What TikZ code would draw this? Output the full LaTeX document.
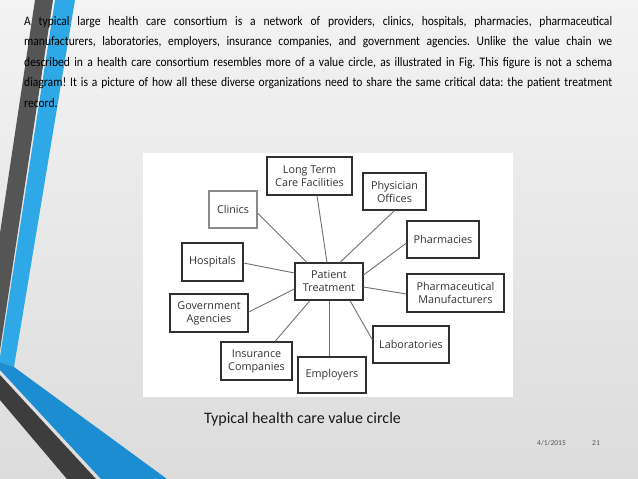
\documentclass[tikz,border=0pt]{standalone}
\usepackage{fontspec}
\setmainfont{Carlito}
\newfontfamily\boxfont{Open Sans}
\newfontfamily\bodyfont{Carlito}[FakeStretch=0.89]
\usetikzlibrary{calc}
\definecolor{bgtop}{HTML}{F3F3F3}
\definecolor{bgbot}{HTML}{DCDCDC}
\definecolor{stripegray}{HTML}{555555}
\definecolor{stripegraydk}{HTML}{3D3D3D}
\definecolor{stripeblue}{HTML}{2EA8E6}
\definecolor{stripebluedk}{HTML}{1C8DD0}
\definecolor{boxline}{HTML}{303030}
\definecolor{boxlinelt}{HTML}{8A8A8A}
\definecolor{boxtext}{HTML}{333333}
\definecolor{linkcol}{HTML}{707070}
\definecolor{foot}{HTML}{555555}
\frenchspacing
\begin{document}
\begin{tikzpicture}[x=1pt,y=-1pt,
  entity/.style={draw=boxline, line width=1.1pt, fill=white, inner sep=0pt,
    align=center, text=boxtext, font=\boxfont\fontsize{10.8}{13}\selectfont},
  link/.style={draw=linkcol, line width=0.9pt},
  bodyline/.style={anchor=base west, inner sep=0pt, text=black,
    font=\bodyfont\fontsize{13}{16}\selectfont}]
\useasboundingbox (0,0) rectangle (638,479);
\shade[top color=bgtop, bottom color=bgbot] (0,0) rectangle (638,479);
% left decoration
\fill[stripegray] (35,0) -- (53,0) -- (0,350) -- (0,233) -- cycle;
\fill[stripeblue] (55,0) -- (75,0) -- (14,367) -- (0,362) -- (0,357) -- cycle;
\fill[stripebluedk] (0,362) -- (14,367) -- (167,479) -- (101,479) -- (0,370) -- cycle;
\fill[stripegraydk] (0,375) -- (96,479) -- (67,479) -- (0,400) -- cycle;
% body text
\node[bodyline] (body1) at (24,25) {\makebox[588pt][s]{A typical large health care consortium is a network of providers, clinics, hospitals, pharmacies, pharmaceutical}};
\node[bodyline] (body2) at (24,45.6) {\makebox[588pt][s]{manufacturers, laboratories, employers, insurance companies, and government agencies. Unlike the value chain we}};
\node[bodyline] (body3) at (24,66.2) {\makebox[588pt][s]{described in a health care consortium resembles more of a value circle, as illustrated in Fig. This figure is not a schema}};
\node[bodyline] (body4) at (24,86.8) {\makebox[588pt][s]{diagram! It is a picture of how all these diverse organizations need to share the same critical data: the patient treatment}};
\node[bodyline] (body5) at (24,107.4) {record.};
% panel
\fill[white] (143,153) rectangle (513,397);
% boxes
\node[entity, minimum width=85pt, minimum height=38pt] (ltc) at (309.5,176) {Long Term\\Care Facilities};
\node[entity, minimum width=63pt, minimum height=37pt] (phys) at (394.5,191.5) {Physician\\Offices};
\node[entity, draw=boxlinelt, minimum width=48pt, minimum height=37pt] (clin) at (233,209.5) {Clinics};
\node[entity, minimum width=72pt, minimum height=37pt] (pharm) at (443,239.5) {Pharmacies};
\node[entity, minimum width=61pt, minimum height=38pt] (hosp) at (212.5,262) {Hospitals};
\node[entity, minimum width=68pt, minimum height=37pt] (pt) at (329,281.5) {Patient\\Treatment};
\node[entity, minimum width=97pt, minimum height=38pt] (pman) at (455.5,293) {Pharmaceutical\\Manufacturers};
\node[entity, minimum width=78pt, minimum height=38pt] (gov) at (209,313) {Government\\Agencies};
\node[entity, minimum width=76pt, minimum height=37pt] (lab) at (411,344.5) {Laboratories};
\node[entity, minimum width=71pt, minimum height=38pt] (ins) at (256.5,361) {Insurance\\Companies};
\node[entity, minimum width=68pt, minimum height=36pt] (emp) at (332,375) {Employers};
% connectors
\draw[link] ([xshift=-2pt]pt.north) -- ([xshift=7.5pt]ltc.south);
\draw[link] ([xshift=11pt]pt.north) -- (phys.south);
\draw[link] ([xshift=-22pt]pt.north) -- ([yshift=-3.5pt]clin.east);
\draw[link] ([yshift=6.5pt]pt.east) -- ([yshift=-3.5pt]pharm.west);
\draw[link] ([yshift=8.5pt]pt.west) -- ([yshift=-1pt]hosp.east);
\draw[link] ([yshift=-5.5pt]pt.east) -- ([yshift=-1pt]pman.west);
\draw[link] ([yshift=-7.5pt]pt.west) -- ([yshift=1pt]gov.east);
\draw[link] ([xshift=21pt]pt.south) -- ([yshift=4.5pt]lab.west);
\draw[link] ([xshift=-19pt]pt.south) -- ([xshift=18.5pt]ins.north);
\draw[link] (pt.south) -- ([xshift=-3pt]emp.north);
% caption and footer
\node[anchor=base, inner sep=0pt, text=black!90, font=\fontsize{16}{19}\selectfont] (cap) at (302.5,423) {Typical health care value circle};
\node[anchor=base west, inner sep=0pt, text=foot, font=\fontsize{7.5}{9}\selectfont] (date) at (537,445) {4/1/2015};
\node[anchor=base west, inner sep=0pt, text=foot, font=\fontsize{7.5}{9}\selectfont] (num) at (592,445) {21};
\end{tikzpicture}
\end{document}
